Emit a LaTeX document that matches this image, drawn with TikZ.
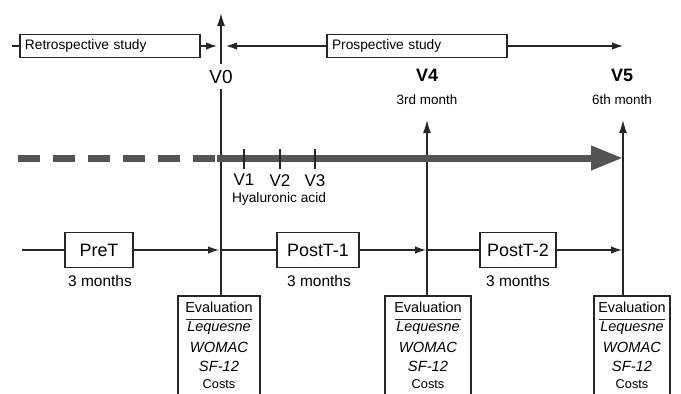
\documentclass[tikz,border=0pt]{standalone}
\usepackage{fontspec}
\setmainfont{Liberation Sans}
\usetikzlibrary{arrows.meta}
\newcommand\fs[1]{\fontsize{#1}{#1}\selectfont}
\begin{document}
\begin{tikzpicture}[x=1bp,y=-1bp,
  thin/.style={line width=1.3bp, draw=black!85},
  tip/.style={thin, -{Latex[length=11bp,width=7.5bp]}},
  vtip/.style={thin, -{Latex[length=13bp,width=8bp]}},
  studybox/.style={draw=black!85, line width=1.5bp, minimum height=23bp, text width=170bp, inner xsep=5bp, inner ysep=0pt, align=left, font=\fs{13.8}},
  phasebox/.style={draw=black!85, line width=1.5bp, minimum height=35bp, inner sep=0pt, font=\fs{18}},
  evalbox/.style={draw=black!85, line width=1.5bp, anchor=north, minimum height=130bp, inner sep=0pt},
  vlab/.style={font=\fs{19}, inner xsep=0pt, inner ysep=6bp},
  vbold/.style={font=\bfseries\fs{18}, inner sep=0pt},
  monthlab/.style={font=\fs{13.5}, inner sep=0pt},
  durlab/.style={font=\fs{15.5}, inner sep=0pt},
  ticklab/.style={font=\fs{17}, inner sep=0pt},
  evtext/.style={inner sep=0pt},
  grayline/.style={line width=7bp, draw=black!67},
]
\useasboundingbox (0,0) rectangle (681,393);

\newcommand\EvalBox[4]{% name, box centre x, box width, line x
  \node[evalbox, minimum width=#3bp] (#1) at (#2,295) {};
  \node[evtext, font=\fs{14.5}] at (#2,307.5) {Evaluation};
  \draw[line width=1bp, black!85] (#2-33,319) -- (#2+33,319);
  \node[evtext, font=\itshape\fs{14.5}] at (#2,328.5) {Lequesne};
  \node[evtext, font=\itshape\fs{14.8}] at (#2,347.5) {WOMAC};
  \node[evtext, font=\itshape\fs{14.8}] at (#2,366.5) {SF-12};
  \node[evtext, font=\fs{12.8}] at (#2,384.5) {Costs};
}

% ---------- top row: study periods ----------
\coordinate (topstart) at (12,46);
\coordinate (v0L) at (217,46);
\coordinate (v0R) at (226,46);
\coordinate (prosEnd) at (623,46);
\node[studybox] (retro) at (110,46) {Retrospective study};
\node[studybox] (pros) at (417,46) {Prospective study};
\draw[thin] (topstart) -- (retro.west);
\draw[tip] (retro.east) -- (v0L);
\draw[tip] (pros.west) -- (v0R);
\draw[tip] (pros.east) -- (prosEnd);

% ---------- evaluation boxes ----------
\EvalBox{e0}{219}{82}{221}
\EvalBox{e1}{428}{86}{427}
\EvalBox{e2}{632}{76}{623}

% ---------- V0 ----------
\node[vlab] (v0) at (221,76.5) {V0};
\coordinate (v0tip) at (221,13);
\draw[thin] (e0.north -| v0) -- (v0.south);
\draw[vtip] (v0.north) -- (v0tip);

% ---------- V4, V5 ----------
\node[vbold] (v4) at (427,75) {V4};
\node[monthlab] (m3) at (427,100) {3rd month};
\node[vbold] (v5) at (622,75) {V5};
\node[monthlab] (m6) at (622,100) {6th month};
\coordinate (v4tip) at (427,120);
\coordinate (v5tip) at (623,120);
\draw[vtip] (e1.north -| v4tip) -- (v4tip);
\draw[vtip] (e2.north -| v5tip) -- (v5tip);

% ---------- thick treatment line ----------
\coordinate (gstart) at (18,158);
\coordinate (gmid) at (217,158);
\coordinate (gend) at (623,158);
\draw[grayline, dash pattern=on 22bp off 13bp] (gstart) -- (gmid);
\draw[grayline, -{Triangle[length=32bp,width=23bp]}] (gmid) -- (gend);

% ticks V1..V3
\foreach \n/\x in {1/244, 2/280, 3/315}{
  \coordinate (t\n a) at (\x,149);
  \coordinate (t\n b) at (\x,169);
  \draw[thin] (t\n a) -- (t\n b);
  \node[ticklab, anchor=north] (vl\n) at ([yshift=-5bp]t\n b) {V\n};
}
\node[monthlab, font=\fs{13.8}] (ha) at (279,199) {Hyaluronic acid};

% ---------- bottom row: phases ----------
\coordinate (bstart) at (22,250);
\coordinate (b0) at (219,250);
\coordinate (b0r) at (221,250);
\coordinate (b4) at (426,250);
\coordinate (b4r) at (428,250);
\coordinate (b5) at (622,250);
\node[phasebox, minimum width=68bp] (pret) at (99,250) {PreT};
\node[phasebox, minimum width=82bp] (post1) at (318,250) {PostT-1};
\node[phasebox, minimum width=76bp] (post2) at (518,250) {PostT-2};
\draw[thin] (bstart) -- (pret.west);
\draw[tip] (pret.east) -- (b0);
\draw[thin] (b0r) -- (post1.west);
\draw[tip] (post1.east) -- (b4);
\draw[thin] (b4r) -- (post2.west);
\draw[tip] (post2.east) -- (b5);
\node[durlab] (d0) at (100,281) {3 months};
\node[durlab] (d1) at (319,281) {3 months};
\node[durlab] (d2) at (518,281) {3 months};
\end{tikzpicture}
\end{document}
